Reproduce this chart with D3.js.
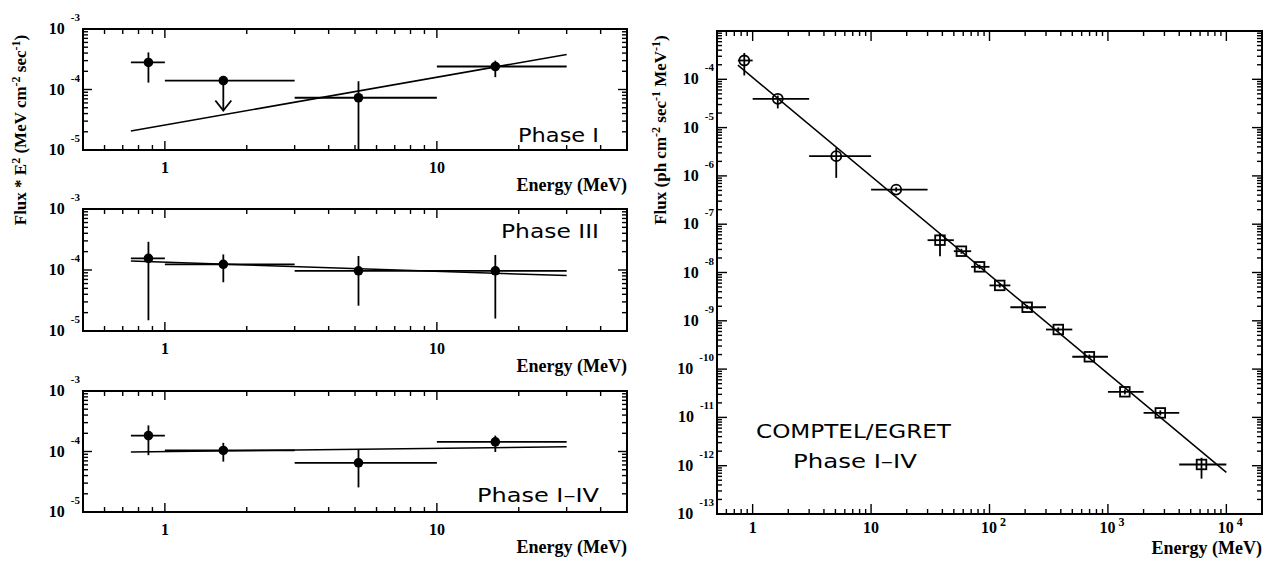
<!DOCTYPE html>
<html>
<head>
<meta charset="utf-8">
<script src="https://cdn.jsdelivr.net/npm/d3@7"></script>
<style>
body{margin:0;background:#fff;}
svg text{font-family:"Liberation Serif","Times New Roman",serif;font-weight:bold;fill:#000;}
.frame{fill:none;stroke:#000;stroke-width:2;}
.tick{stroke:#000;stroke-width:1.4;}
.err{stroke:#000;stroke-width:1.8;fill:none;}
.fit{stroke:#000;stroke-width:1.5;fill:none;}
.phase{font-family:"DejaVu Sans",sans-serif !important;font-weight:normal !important;}
</style>
</head>
<body>
<script>
// left column: COMPTEL energy bins (MeV)
var binE  = [0.87, 1.64, 5.15, 16.4];
var binLo = [0.75, 1, 3, 10];
var binHi = [1, 3, 10, 30];
var fitE  = [0.75, 30];

// E^2 * flux per phase (MeV cm^-2 s^-1)
var phase1Flux  = [2.8e-4, 1.4e-4, 7.3e-5, 2.4e-4];
var phase1Up    = [4.1e-4, 1.4e-4, 1.37e-4, 3.0e-4];
var phase1Down  = [1.3e-4, 4.5e-5, 5e-6, 1.6e-4];
var phase1Limit = [false, true, false, false];
var phase1Fit   = [2.06e-5, 3.8e-4];

var phase3Flux  = [1.55e-4, 1.24e-4, 9.7e-5, 9.7e-5];
var phase3Up    = [2.9e-4, 1.8e-4, 1.7e-4, 1.76e-4];
var phase3Down  = [1.5e-5, 6.3e-5, 2.6e-5, 1.6e-5];
var phase3Limit = [false, false, false, false];
var phase3Fit   = [1.4e-4, 8.1e-5];

var phase14Flux  = [1.83e-4, 1.04e-4, 6.5e-5, 1.44e-4];
var phase14Up    = [2.7e-4, 1.39e-4, 1.08e-4, 1.83e-4];
var phase14Down  = [8.7e-5, 6.8e-5, 2.55e-5, 9.8e-5];
var phase14Limit = [false, false, false, false];
var phase14Fit   = [9.8e-5, 1.2e-4];

// right: COMPTEL (circles) + EGRET (squares) photon spectrum
var comptelE    = [0.85, 1.63, 5.08, 16.3];
var comptelELo  = [0.75, 1, 3, 10];
var comptelEHi  = [1, 3, 10, 30];
var comptelF    = [2.45e-4, 3.95e-5, 2.56e-6, 5.2e-7];
var comptelFUp  = [3.5e-4, 4.6e-5, 3.8e-6, 5.8e-7];
var comptelFDn  = [1.2e-4, 2.5e-5, 9.1e-7, 4.7e-7];

var egretE   = [38.2, 57.9, 82.4, 122, 208, 381, 697, 1390, 2770, 6170];
var egretELo = [30, 50, 70, 100, 150, 300, 500, 1000, 2000, 4000];
var egretEHi = [50, 70, 100, 150, 300, 500, 1000, 2000, 4000, 10000];
var egretF   = [4.67e-8, 2.76e-8, 1.31e-8, 5.4e-9, 1.91e-9, 6.6e-10, 1.8e-10, 3.39e-11, 1.24e-11, 1.06e-12];
var egretFUp = [6.6e-8, 3.1e-8, 1.45e-8, 6.0e-9, 2.1e-9, 7.3e-10, 2.0e-10, 3.8e-11, 1.4e-11, 1.46e-12];
var egretFDn = [2.18e-8, 2.45e-8, 1.18e-8, 4.9e-9, 1.75e-9, 6.0e-10, 1.62e-10, 3.0e-11, 1.1e-11, 5.4e-13];

var specFitE = [0.75, 10000];
var specFitF = [1.96e-4, 7.3e-13];

var leftXLabels  = [1, 10];
var rightXLabels = [1, 10, 100, 1000, 10000];

var svg = d3.select("body").append("svg")
    .attr("width", 1270)
    .attr("height", 562);

//log ticks with 2..9 minors
function logTicks(lo, hi){
    var out = [];
    for (var d = Math.floor(Math.log10(lo)); d <= Math.ceil(Math.log10(hi)); d++){
        for (var k = 1; k < 10; k++){
            var v = k * Math.pow(10, d);
            if (v >= lo * 0.999 && v <= hi * 1.001) out.push({v: v, major: k == 1});
        }
    }
    return out;
}

function pow10Label(g, x, y, exp, anchor, size, supSize, supDy, gap){
    var t = g.append("text")
        .attr("x", x).attr("y", y)
        .attr("text-anchor", anchor)
        .style("font-size", size + "px");
    if (exp === 0){ t.text("1"); return; }
    if (exp === 1){ t.text("10"); return; }
    t.append("tspan").text("10");
    t.append("tspan").attr("dx", gap).attr("dy", supDy)
        .style("font-size", supSize + "px").text(exp);
}

function frameTicks(g, x, y, l, r, t, b, xMaj, xMin, yMaj, yMin){
    var xd = x.domain(), yd = y.domain();
    logTicks(xd[0], xd[1]).forEach(function(d){
        var px = x(d.v), len = d.major ? xMaj : xMin;
        g.append("line").attr("class", "tick")
            .attr("x1", px).attr("x2", px).attr("y1", b).attr("y2", b - len);
        g.append("line").attr("class", "tick")
            .attr("x1", px).attr("x2", px).attr("y1", t).attr("y2", t + len);
    });
    logTicks(yd[0], yd[1]).forEach(function(d){
        var py = y(d.v), len = d.major ? yMaj : yMin;
        g.append("line").attr("class", "tick")
            .attr("x1", l).attr("x2", l + len).attr("y1", py).attr("y2", py);
        g.append("line").attr("class", "tick")
            .attr("x1", r).attr("x2", r - len).attr("y1", py).attr("y2", py);
    });
    g.append("rect").attr("class", "frame")
        .attr("x", l).attr("y", t).attr("width", r - l).attr("height", b - t);
}

//one of the three E^2 flux panels
function leftPanel(id, top, bottom, flux, up, down, limit, fit, label, labelX, labelY, labelW){
    var left = 83, right = 627;
    var x = d3.scaleLog().domain([0.5, 50]).range([left, right]);
    var y = d3.scaleLog().domain([1e-5, 1e-3]).range([bottom, top]);
    var g = svg.append("g");

    g.append("clipPath").attr("id", id)
        .append("rect").attr("x", left).attr("y", top)
        .attr("width", right - left).attr("height", bottom - top);
    var plot = g.append("g").attr("clip-path", "url(#" + id + ")");

    //fit line
    plot.append("path").attr("class", "fit")
        .attr("d", d3.line().x(function(d){ return x(d); })
            .y(function(d, i){ return y(fit[i]); })(fitE));

    binE.forEach(function(e, i){
        plot.append("line").attr("class", "err")
            .attr("x1", x(binLo[i])).attr("x2", x(binHi[i]))
            .attr("y1", y(flux[i])).attr("y2", y(flux[i]));
        if (limit[i]){
            var ay = y(down[i]);
            plot.append("line").attr("class", "err")
                .attr("x1", x(e)).attr("x2", x(e))
                .attr("y1", y(flux[i])).attr("y2", ay);
            plot.append("path").attr("class", "err")
                .attr("d", "M" + (x(e) - 8) + "," + (ay - 10) + "L" + x(e) + "," + ay + "L" + (x(e) + 8) + "," + (ay - 10));
        } else {
            plot.append("line").attr("class", "err")
                .attr("x1", x(e)).attr("x2", x(e))
                .attr("y1", y(up[i])).attr("y2", y(down[i]));
        }
        plot.append("circle").attr("cx", x(e)).attr("cy", y(flux[i]))
            .attr("r", 4.8).attr("fill", "#000");
    });

    frameTicks(g, x, y, left, right, top, bottom, 9, 5, 9, 5);

    [1e-5, 1e-4, 1e-3].forEach(function(v){
        pow10Label(g, left - 3, y(v) + 5, Math.round(Math.log10(v)), "end", 16, 11, -13, 6);
    });
    leftXLabels.forEach(function(v){
        g.append("text").attr("x", x(v)).attr("y", bottom + 23)
            .attr("text-anchor", "middle").style("font-size", "16px").text(v);
    });
    g.append("text").attr("x", right).attr("y", bottom + 41)
        .attr("text-anchor", "end").style("font-size", "18px").text("Energy (MeV)");

    g.append("text").attr("class", "phase")
        .attr("x", labelX).attr("y", labelY)
        .attr("textLength", labelW).attr("lengthAdjust", "spacingAndGlyphs")
        .style("font-size", "19px").text(label);
}

leftPanel("c1", 29, 150, phase1Flux, phase1Up, phase1Down, phase1Limit, phase1Fit, "Phase I", 518, 142, 81);
leftPanel("c3", 209, 331, phase3Flux, phase3Up, phase3Down, phase3Limit, phase3Fit, "Phase III", 501, 238, 98);
leftPanel("c14", 391, 512, phase14Flux, phase14Up, phase14Down, phase14Limit, phase14Fit, "Phase I\u2013IV", 477, 502, 122);

//rotated title with superscripts
function yTitle(cx, cy, parts){
    var t = svg.append("text")
        .attr("transform", "translate(" + cx + "," + cy + ") rotate(-90)")
        .attr("text-anchor", "middle")
        .style("font-size", "17px");
    parts.forEach(function(p, i){
        if (i % 2 == 0) t.append("tspan").attr("dy", i ? 6 : 0).text(p);
        else t.append("tspan").attr("dy", -6).style("font-size", "12px").text(p);
    });
}
yTitle(26, 130, ["Flux * E", "2", " (MeV cm", "-2", " sec", "-1", ")"]);

//right panel: photon spectrum
(function(){
    var left = 717, right = 1262, top = 31, bottom = 514;
    var x = d3.scaleLog().domain([0.5, 20000]).range([left, right]);
    var y = d3.scaleLog().domain([1e-13, 1e-3]).range([bottom, top]);
    var g = svg.append("g");

    g.append("clipPath").attr("id", "cr")
        .append("rect").attr("x", left).attr("y", top)
        .attr("width", right - left).attr("height", bottom - top);
    var plot = g.append("g").attr("clip-path", "url(#cr)");

    plot.append("path").attr("class", "fit")
        .attr("d", d3.line().x(function(d){ return x(d); })
            .y(function(d, i){ return y(specFitF[i]); })(specFitE));

    function bars(E, lo, hi, F, up, dn){
        E.forEach(function(e, i){
            plot.append("line").attr("class", "err")
                .attr("x1", x(lo[i])).attr("x2", x(hi[i]))
                .attr("y1", y(F[i])).attr("y2", y(F[i]));
            plot.append("line").attr("class", "err")
                .attr("x1", x(e)).attr("x2", x(e))
                .attr("y1", y(up[i])).attr("y2", y(dn[i]));
        });
    }
    bars(comptelE, comptelELo, comptelEHi, comptelF, comptelFUp, comptelFDn);
    bars(egretE, egretELo, egretEHi, egretF, egretFUp, egretFDn);

    plot.selectAll(".cmark").data(comptelE).enter().append("circle")
        .attr("class", "err")
        .attr("cx", function(d){ return x(d); })
        .attr("cy", function(d, i){ return y(comptelF[i]); })
        .attr("r", 5);
    plot.selectAll(".emark").data(egretE).enter().append("rect")
        .attr("class", "err")
        .attr("x", function(d){ return x(d) - 4.8; })
        .attr("y", function(d, i){ return y(egretF[i]) - 4.8; })
        .attr("width", 9.6).attr("height", 9.6);

    frameTicks(g, x, y, left, right, top, bottom, 10, 5, 10, 5);

    for (var e = -13; e <= -4; e++){
        pow10Label(g, left - 3, y(Math.pow(10, e)) + 5, e, "end", 16, 11, -13, 6);
    }
    rightXLabels.forEach(function(v){
        var ex = Math.round(Math.log10(v));
        pow10Label(g, x(v) + (ex > 1 ? 4 : 0), bottom + 19, ex, "middle", 16, 12, -7, 3);
    });
    g.append("text").attr("x", right).attr("y", bottom + 40)
        .attr("text-anchor", "end").style("font-size", "18px").text("Energy (MeV)");

    g.append("text").attr("class", "phase")
        .attr("x", 756).attr("y", 438)
        .attr("textLength", 195).attr("lengthAdjust", "spacingAndGlyphs")
        .style("font-size", "20px").text("COMPTEL/EGRET");
    g.append("text").attr("class", "phase")
        .attr("x", 793).attr("y", 468)
        .attr("textLength", 124).attr("lengthAdjust", "spacingAndGlyphs")
        .style("font-size", "20px").text("Phase I\u2013IV");
})();

yTitle(666, 130, ["Flux (ph cm", "-2", " sec", "-1", " MeV", "-1", ")"]);
</script>
</body>
</html>
